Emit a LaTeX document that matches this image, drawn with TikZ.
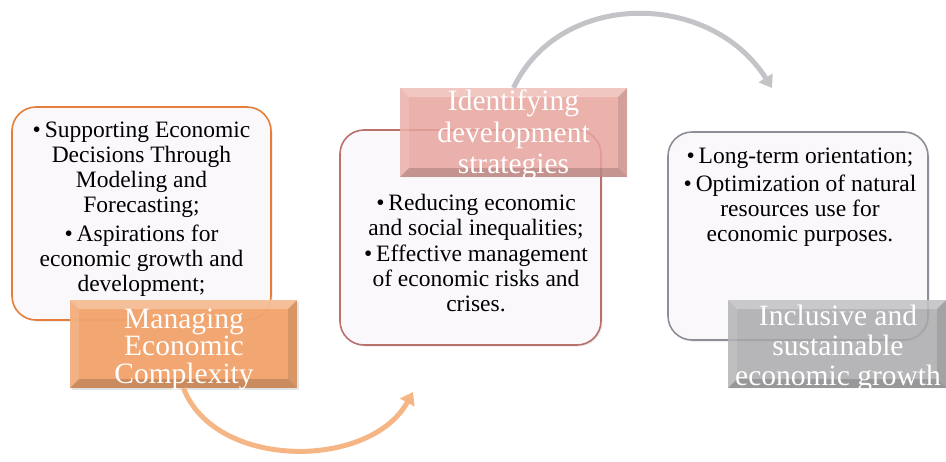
\documentclass[tikz,border=0pt]{standalone}
\usepackage{fontspec}
\setmainfont{Liberation Serif}
\usetikzlibrary{arrows.meta,shadows}
\definecolor{boxfill}{HTML}{FBF8FC}
\definecolor{orline}{HTML}{E57E38}
\definecolor{orfill}{HTML}{F3A46C}
\definecolor{orarrow}{HTML}{F6B585}
\definecolor{rdline}{HTML}{B8716B}
\definecolor{rdfill}{HTML}{E8A49D}
\definecolor{gyline}{HTML}{8E8E98}
\definecolor{gyfill}{HTML}{A9A9AB}
\definecolor{gyarrow}{HTML}{C4C4C8}
\tikzset{
  bodybox/.style={rounded corners=24pt, fill=boxfill, line width=1.6pt,
    drop shadow={opacity=0.18, shadow xshift=1.5pt, shadow yshift=-1.5pt}},
  bodytext/.style={align=center, inner sep=0pt, font=\fontsize{23.5}{25}\selectfont, text=black},
  labtext/.style={align=center, inner sep=0pt, text=white},
  bevel/.style={inner sep=0pt,
    path picture={
      \def\pb{path picture bounding box}
      \fill[white,opacity=0.28] (\pb.north west) -- (\pb.north east) -- ([xshift=-9pt,yshift=-9pt]\pb.north east) -- ([xshift=9pt,yshift=-9pt]\pb.north west) -- cycle;
      \fill[white,opacity=0.12] (\pb.north west) -- ([xshift=9pt,yshift=-9pt]\pb.north west) -- ([xshift=9pt,yshift=9pt]\pb.south west) -- (\pb.south west) -- cycle;
      \fill[black,opacity=0.10] (\pb.north east) -- ([xshift=-9pt,yshift=-9pt]\pb.north east) -- ([xshift=-9pt,yshift=9pt]\pb.south east) -- (\pb.south east) -- cycle;
      \fill[black,opacity=0.16] (\pb.south west) -- ([xshift=9pt,yshift=9pt]\pb.south west) -- ([xshift=-9pt,yshift=9pt]\pb.south east) -- (\pb.south east) -- cycle;
    }},
  arc/.style={line width=5pt, -{Triangle[width=16pt,length=12pt]}}
}
\begin{document}
\begin{tikzpicture}[x=1pt,y=-1pt]
\useasboundingbox (0,0) rectangle (946,461);

% body boxes
\node[bodybox, draw=orline, minimum width=259pt, minimum height=213pt] (box1) at (141.5,213.5) {};
\node[bodybox, draw=rdline, minimum width=261pt, minimum height=215pt] (box2) at (470.5,237.5) {};
\node[bodybox, draw=gyline, minimum width=260pt, minimum height=208pt] (box3) at (798,236) {};

% body texts
\node[bodytext] (t1) at (141.5,209) {\textbullet\,Supporting Economic\\Decisions Through\\Modeling and\\Forecasting;\\[4pt]\textbullet\,Aspirations for\\economic growth and\\development;};
\node[bodytext] (t2) at (476,253) {\textbullet\,Reducing economic\\and social inequalities;\\[1pt]\textbullet\,Effective management\\of economic risks and\\crises.};
\node[bodytext] (t3) at (800,197) {\textbullet\,Long-term orientation;\\[3pt]\textbullet\,Optimization of natural\\resources use for\\economic purposes.};

% labels
\node[bevel, fill=orfill, fill opacity=0.95, minimum width=227pt, minimum height=88pt,
  drop shadow={opacity=0.2, shadow xshift=1.5pt, shadow yshift=-1.5pt}] (lab1) at (183.5,344) {};
\node[bevel, fill=rdfill, fill opacity=0.85, minimum width=227pt, minimum height=89pt] (lab2) at (513.5,132.5) {};
\node[bevel, fill=gyfill, fill opacity=0.85, minimum width=218pt, minimum height=88pt] (lab3) at (837,344) {};

\node[labtext, font=\fontsize{29.5}{27.5}\selectfont] (l1) at (184,349) {Managing\\Economic\\Complexity};
\node[labtext, font=\fontsize{29.5}{31.5}\selectfont] (l2) at (513.5,135) {Identifying\\development\\strategies};
\node[labtext, font=\fontsize{29.5}{30}\selectfont] (l3) at (838,348) {Inclusive and\\sustainable\\economic growth};

% connectors
\coordinate (e1) at (413,392);
\coordinate (e2) at (772,88);
\draw[arc, orarrow] (lab1.south) .. controls (215,470) and (370,470) .. (e1);
\draw[arc, gyarrow] (lab2.north) .. controls (560,-10) and (710,-10) .. (e2);
\end{tikzpicture}
\end{document}
